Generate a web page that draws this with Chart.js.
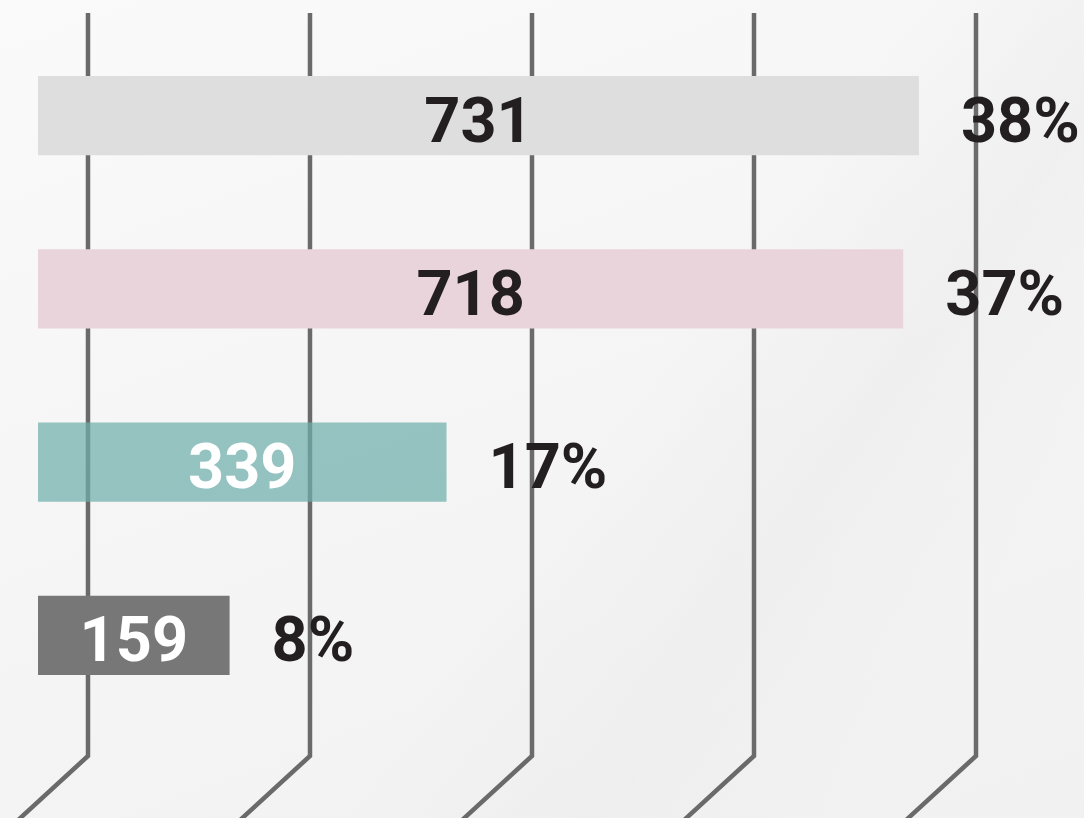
<!DOCTYPE html>
<html>
<head>
<meta charset="utf-8">
<script src="https://cdn.jsdelivr.net/npm/chart.js@4.4.1/dist/chart.umd.min.js"></script>
<style>
  html, body { margin: 0; padding: 0; }
  body {
    width: 1084px; height: 818px; overflow: hidden;
    background:
      linear-gradient(125deg, rgba(255,255,255,0) 55%, rgba(236,236,236,0.6) 70%, rgba(255,255,255,0) 85%),
      linear-gradient(160deg, #fafafb 0%, #f5f5f6 50%, #f1f1f1 100%);
  }
  #wrap { position: relative; width: 1084px; height: 818px; }
</style>
</head>
<body>
<div id="wrap"><canvas id="c" width="1084" height="818"></canvas></div>
<script>
// ---- data ----
const categories = ['Category 1', 'Category 2', 'Category 3', 'Category 4'];
const values = [731, 718, 339, 159];
const percentLabels = ['38%', '37%', '17%', '8%'];
const barColors = ['#dedede', '#ead4dc', 'rgba(111,174,171,0.72)', '#777777'];
const valueTextColors = ['#231f20', '#231f20', '#ffffff', '#ffffff'];
const guideLines = [0, 1, 2, 3, 4];

const FONT = "'Roboto', 'Liberation Sans', sans-serif";

const guidePlugin = {
  id: 'guides',
  beforeDatasetsDraw(chart) {
    const s = chart.scales.x2;
    const ctx = chart.ctx;
    ctx.save();
    ctx.strokeStyle = '#6a6a6a';
    ctx.lineWidth = 4.5;
    ctx.lineJoin = 'miter';
    guideLines.forEach(v => {
      const px = s.getPixelForValue(v);
      ctx.beginPath();
      ctx.moveTo(px, 13);
      ctx.lineTo(px, 756);
      ctx.lineTo(px - 72, 822);
      ctx.stroke();
    });
    ctx.restore();
  }
};

const labelPlugin = {
  id: 'labels',
  afterDatasetsDraw(chart) {
    const ctx = chart.ctx;
    const meta = chart.getDatasetMeta(0);
    ctx.save();
    ctx.font = `700 63px ${FONT}`;
    ctx.textBaseline = 'alphabetic';
    meta.data.forEach((bar, i) => {
      const cx = (bar.x + bar.base) / 2;
      ctx.textAlign = 'center';
      ctx.fillStyle = valueTextColors[i];
      ctx.fillText(String(values[i]), cx, bar.y + 26);
      ctx.textAlign = 'left';
      ctx.fillStyle = '#231f20';
      ctx.fillText(percentLabels[i], bar.x + 42, bar.y + 26);
    });
    ctx.restore();
  }
};

new Chart(document.getElementById('c'), {
  type: 'bar',
  data: {
    labels: categories,
    datasets: [{
      data: values,
      backgroundColor: barColors,
      borderWidth: 0,
      barPercentage: 0.456,
      categoryPercentage: 1
    }]
  },
  options: {
    indexAxis: 'y',
    responsive: false,
    animation: false,
    devicePixelRatio: 1,
    layout: { padding: { left: 38, right: 0, top: 29, bottom: 96 } },
    plugins: { legend: { display: false }, tooltip: { enabled: false } },
    scales: {
      x: { type: 'linear', min: 0, max: 868, display: false },
      x2: { type: 'linear', position: 'bottom', min: -0.2252, max: 4.4865, display: false },
      y: { display: false }
    }
  },
  plugins: [guidePlugin, labelPlugin]
});
</script>
</body>
</html>
